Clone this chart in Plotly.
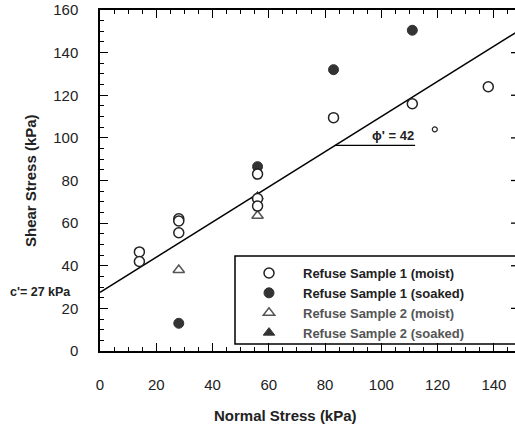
import plotly.graph_objects as go

# ---- data ----
s1_moist_x = [14, 14, 28, 28, 28, 56, 56, 56, 83, 111, 138]
s1_moist_y = [46.5, 42, 62, 61, 55.5, 83, 71.5, 68, 109.5, 116, 124]
s1_soaked_x = [28, 56, 83, 111]
s1_soaked_y = [13, 86.5, 132, 150.5]
s2_moist_x = [28, 56]
s2_moist_y = [38, 63.5]
s2_soaked_x = [56]
s2_soaked_y = [72.5]
stray_x = [119]
stray_y = [104]
fit_x = [0, 150]
c_prime = 27.5
fit_slope = 0.825
fit_y = [c_prime + fit_slope * v for v in fit_x]
phi_x = [83.5, 112]
phi_y = [96.5, 96.5]

W, H = 515, 428
L, R, T, B = 100, 0, 10, 77
PW = W - L - R
PH = H - T - B

def px_x(p):
    return (p - L) / PW

def px_y(p):
    return 1 - (p - T) / PH

dark = "#222222"
fig = go.Figure()

fig.add_trace(go.Scatter(x=fit_x, y=fit_y, mode="lines",
                         line=dict(color="black", width=1.5), showlegend=False,
                         hoverinfo="skip"))
fig.add_trace(go.Scatter(x=phi_x, y=phi_y, mode="lines",
                         line=dict(color="black", width=1.3), showlegend=False,
                         hoverinfo="skip"))

fig.add_trace(go.Scatter(x=s1_soaked_x, y=s1_soaked_y, mode="markers", legendrank=2,
                         name="<span style='color:#222'>Refuse Sample 1 (soaked)</span>",
                         marker=dict(symbol="circle", size=10, color="#333333",
                                     line=dict(color="#333333", width=1))))
fig.add_trace(go.Scatter(x=s2_soaked_x, y=s2_soaked_y, mode="markers", legendrank=4,
                         name="<span style='color:#555'>Refuse Sample 2 (soaked)</span>",
                         marker=dict(symbol="triangle-up", size=10, color="#333333",
                                     line=dict(color="#333333", width=1))))
fig.add_trace(go.Scatter(x=s2_moist_x, y=s2_moist_y, mode="markers", legendrank=3,
                         name="<span style='color:#555'>Refuse Sample 2 (moist)</span>",
                         marker=dict(symbol="triangle-up-open", size=10, color="#555555",
                                     line=dict(color="#555555", width=1.5))))
fig.add_trace(go.Scatter(x=s1_moist_x, y=s1_moist_y, mode="markers", legendrank=1,
                         name="<span style='color:#222'>Refuse Sample 1 (moist)</span>",
                         marker=dict(symbol="circle", size=10, color="white",
                                     line=dict(color=dark, width=1.5))))
fig.add_trace(go.Scatter(x=stray_x, y=stray_y, mode="markers", showlegend=False,
                         marker=dict(symbol="circle", size=5, color="white",
                                     line=dict(color=dark, width=1.2))))

# legend box (extends past right edge)
shapes = [dict(type="rect", xref="paper", yref="paper",
               x0=px_x(235), x1=px_x(530), y0=px_y(344), y1=px_y(256),
               line=dict(color="black", width=1.5), fillcolor="white", layer="below")]
# right-axis tick stubs visible at the crop edge
for yv in [20, 40, 60, 80, 100, 120, 140]:
    shapes.append(dict(type="line", xref="paper", yref="y",
                       x0=px_x(511), x1=1.0, y0=yv, y1=yv,
                       line=dict(color="black", width=1.3)))

axis_font = dict(family="Liberation Sans, Arial, sans-serif", size=15, color=dark)

fig.update_layout(
    width=W, height=H,
    margin=dict(l=L, r=R, t=T, b=B),
    paper_bgcolor="white", plot_bgcolor="white",
    font=dict(family="Liberation Sans, Arial, sans-serif", color=dark),
    shapes=shapes,
    xaxis=dict(range=[0, 147.5], tickmode="array",
               tickvals=[0, 20, 40, 60, 80, 100, 120, 140],
               ticks="inside", ticklen=8, tickwidth=1.3, tickcolor="black",
               minor=dict(ticks="inside", dtick=5, ticklen=4, tickwidth=1, tickcolor="black"),
               showline=True, linecolor="black", linewidth=1.5, mirror="ticks",
               showgrid=False, zeroline=False, tickfont=axis_font,
               ticklabelstandoff=19),
    yaxis=dict(range=[0, 160], tickmode="array",
               tickvals=[0, 20, 40, 60, 80, 100, 120, 140, 160],
               ticks="inside", ticklen=8, tickwidth=1.3, tickcolor="black",
               minor=dict(ticks="inside", dtick=5, ticklen=4, tickwidth=1, tickcolor="black"),
               showline=True, linecolor="black", linewidth=1.5, mirror=False,
               showgrid=False, zeroline=False, tickfont=axis_font,
               ticklabelstandoff=17),
    legend=dict(x=px_x(235), y=px_y(258), xanchor="left", yanchor="top",
                bgcolor="rgba(0,0,0,0)", borderwidth=0, traceorder="normal",
                font=dict(family="Liberation Sans, Arial, sans-serif", size=13,
                          color=dark, weight="bold"),
                itemwidth=58, tracegroupgap=0),
    annotations=[
        dict(text="<b>Normal Stress (kPa)</b>", xref="paper", yref="paper",
             x=px_x(285), y=px_y(415), xanchor="center", yanchor="middle",
             showarrow=False, font=dict(size=15, color=dark)),
        dict(text="<b>Shear Stress (kPa)</b>", xref="paper", yref="paper",
             x=px_x(30), y=px_y(181), xanchor="center", yanchor="middle",
             textangle=-90, showarrow=False, font=dict(size=15, color=dark)),
        dict(text="<b>c'= 27 kPa</b>", xref="paper", yref="y",
             x=px_x(8), y=c_prime, xanchor="left", yanchor="middle",
             showarrow=False, font=dict(size=12.5, color=dark)),
        dict(text="<b>ϕ' = 42</b>", xref="x", yref="y",
             x=104, y=101, xanchor="center", yanchor="middle",
             showarrow=False, font=dict(size=13, color=dark)),
    ],
)

fig.write_html("out.html")
